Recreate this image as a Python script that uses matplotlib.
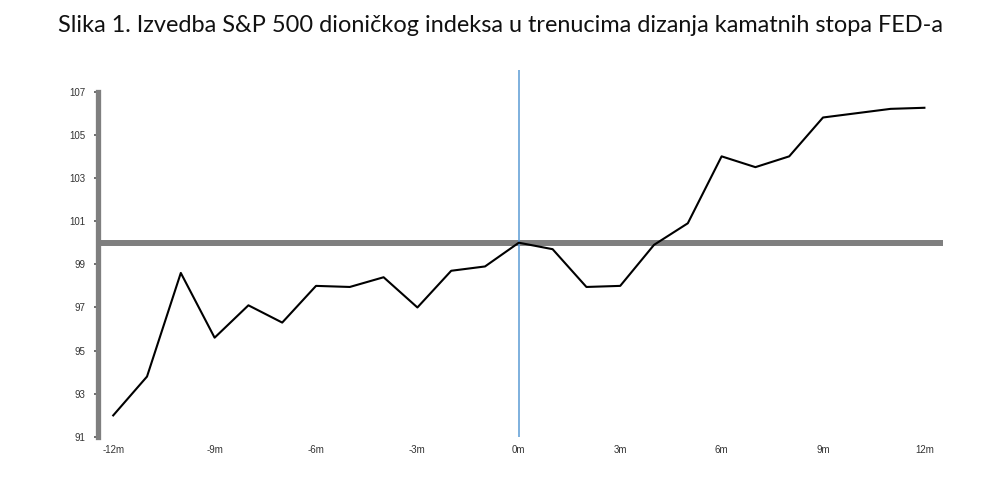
import numpy as np
import matplotlib.pyplot as plt

title = 'Slika 1. Izvedba S&P 500 dioničkog indeksa u trenucima dizanja kamatnih stopa FED-a'
months = list(range(-12, 13))
index_values = [92.0, 93.8, 98.6, 95.6, 97.1, 96.3, 98.0, 97.95, 98.4, 97.0, 98.7, 98.9,
				100.0, 99.7, 97.95, 98.0, 99.9, 100.9, 104.0, 103.5, 104.0, 105.8, 106.0, 106.2, 106.25]
x_ticks = [-12, -9, -6, -3, 0, 3, 6, 9, 12]
x_labels = ['-12m', '-9m', '-6m', '-3m', '0m', '3m', '6m', '9m', '12m']
y_ticks = [91, 93, 95, 97, 99, 101, 103, 105, 107]


def main():
	fig = plt.figure(figsize=(10, 5), dpi=100)
	fig.text(0.5, 0.95, title, ha='center', va='center', fontsize=16.9,
		family='Lato', color='#111111')

	ax = fig.add_axes([0.098, 0.126, 0.845, 0.734])
	ax.set_xlim(-12.45, 12.55)
	ax.set_ylim(91, 108)

	ax.axhline(100, color='#7f7f7f', lw=4.3, zorder=1)
	ax.axvline(0, color='#5b9bd5', lw=1.1, zorder=2)
	ax.plot(months, index_values, color='black', lw=1.5, zorder=3)

	for side in ['top', 'right', 'bottom']:
		ax.spines[side].set_visible(False)
	ax.spines['left'].set_color('#7f7f7f')
	ax.spines['left'].set_linewidth(3.8)
	ax.spines['left'].set_bounds(91, 107)

	ax.set_yticks(y_ticks)
	ax.set_yticklabels([str(v) for v in y_ticks], fontsize=7, family='Liberation Sans', color='#333333')
	ax.tick_params(axis='y', length=3, width=1.2, color='#555555', pad=6)

	ax.set_xticks(x_ticks)
	ax.set_xticklabels(x_labels, fontsize=7, family='Liberation Sans', color='#333333')
	ax.tick_params(axis='x', length=0, pad=6)

	fig.savefig('out.png', dpi=100, facecolor='white')


if __name__ == '__main__':
	main()
